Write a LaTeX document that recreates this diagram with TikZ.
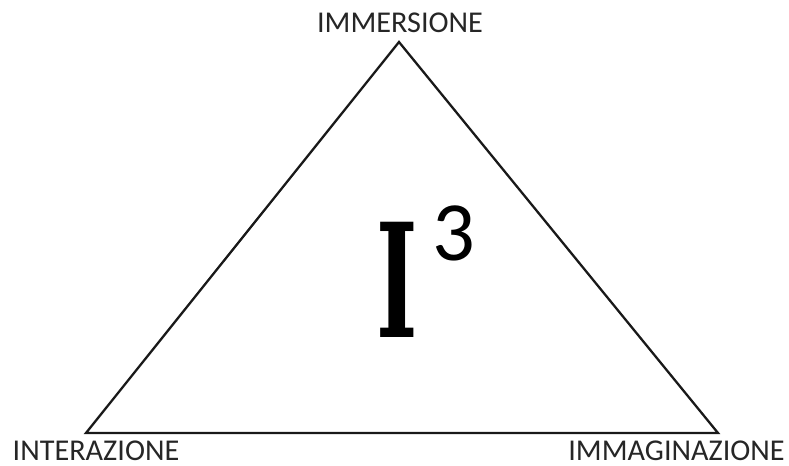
\documentclass[tikz,border=0pt]{standalone}
\usepackage{fontspec}
\usepackage{tikz}
\usetikzlibrary{positioning}
\newfontfamily\labelfont{Carlito}
\newfontfamily\slabfont{DejaVu Serif}

\begin{document}
\begin{tikzpicture}[
  corner/.style={font=\labelfont\fontsize{17.2}{19}\selectfont, inner sep=0pt, text=black!85},
  side/.style={draw=black!90, line width=1.3pt, line cap=round}
]
\useasboundingbox (0,0) rectangle (15.78,9.32);

\coordinate (top) at (7.98,8.48);
\coordinate (left) at (1.72,0.66);
\coordinate (right) at (14.36,0.66);

\node[corner] (immersione) at (8.00,8.86) {IMMERSIONE};
\node[corner] (interazione) at (1.92,0.30) {INTERAZIONE};
\node[corner] (immaginazione) at (13.53,0.30) {IMMAGINAZIONE};

\draw[side] (top) -- (right) -- (left) -- cycle;

\node[inner sep=0pt, font=\slabfont\bfseries\fontsize{90}{90}\selectfont] (ichar) at (7.94,3.73) {\scalebox{0.56}[1]{I}};
\node[inner sep=0pt, font=\labelfont\fontsize{48}{48}\selectfont] (cube) at (9.07,4.65) {3};
\end{tikzpicture}
\end{document}
